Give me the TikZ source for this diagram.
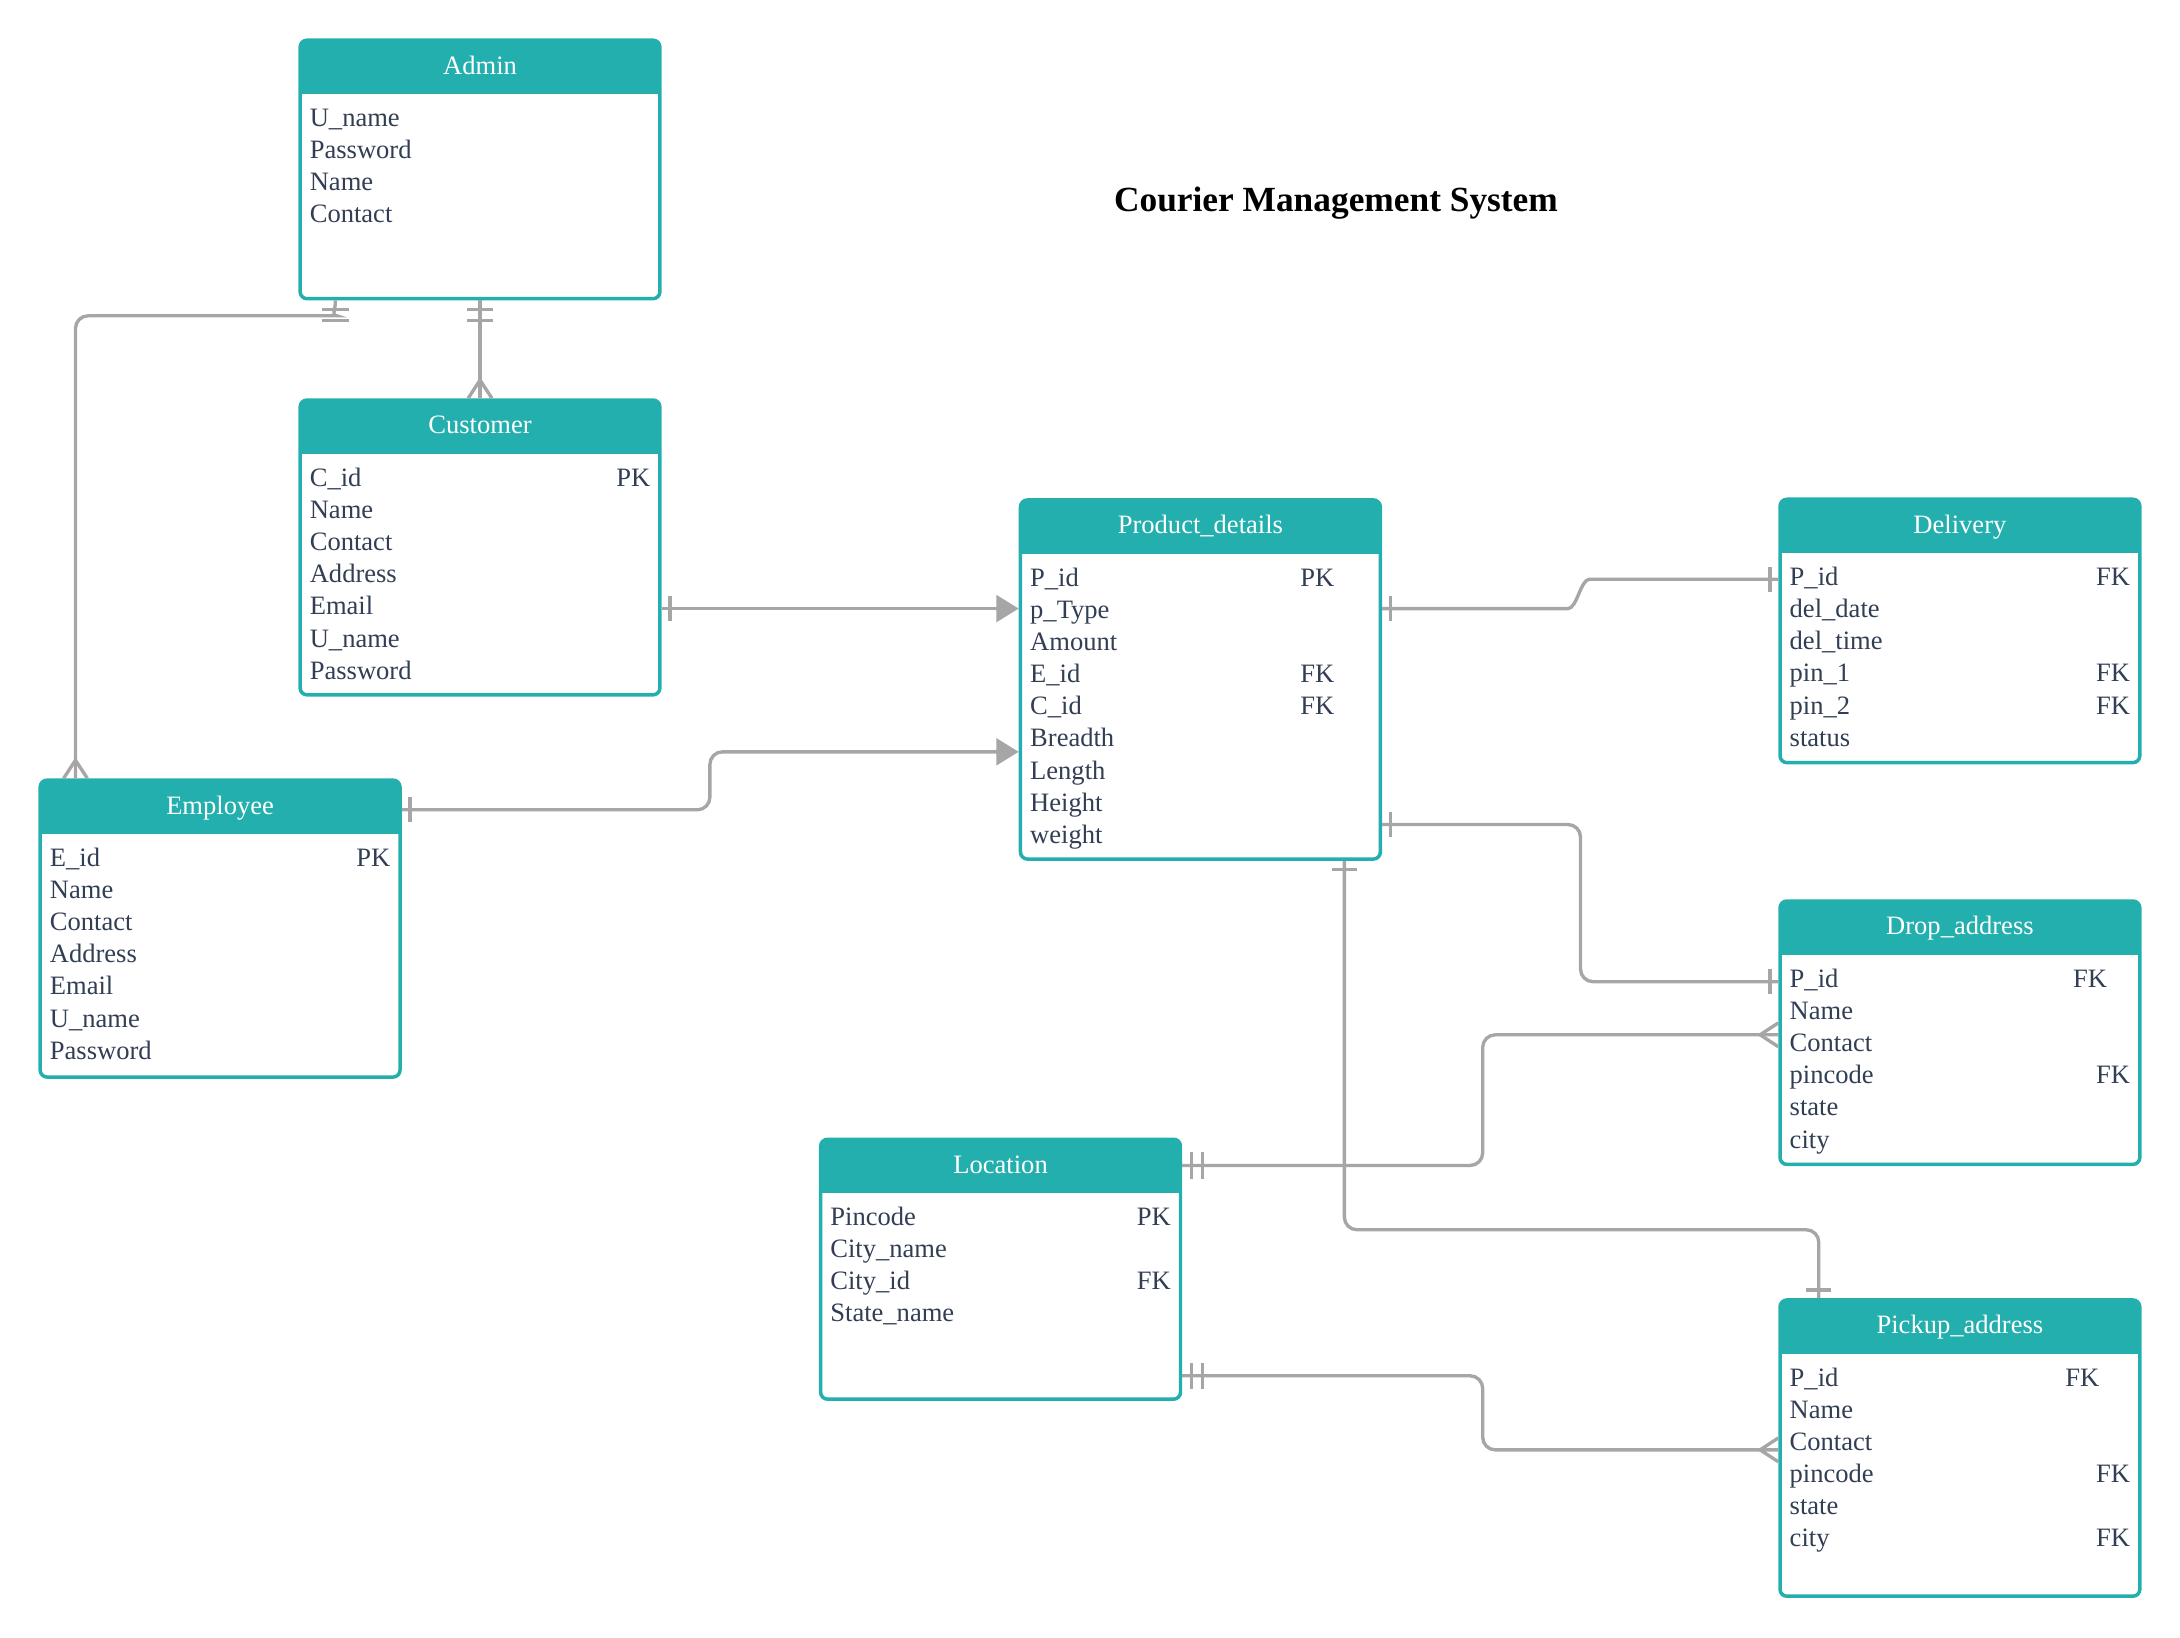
\documentclass[tikz,border=0pt]{standalone}
\usepackage{fontspec}
\setmainfont{Liberation Serif}
\usepackage{tikz}
\usetikzlibrary{arrows.meta,decorations.markings}

\definecolor{teal1}{RGB}{35,175,173}
\definecolor{lgray}{RGB}{166,166,166}
\definecolor{ink}{RGB}{50,62,84}

\tikzset{
  barline/.style={draw=lgray,line width=2.4pt,arrows=-},
  one start/.style={postaction={decorate,decoration={markings,
      mark=at position 6pt with {\draw[barline] (0pt,-9pt) -- (0pt,9pt);}}}},
  one end/.style={postaction={decorate,decoration={markings,
      mark=at position -6pt with {\draw[barline] (0pt,-9pt) -- (0pt,9pt);}}}},
  two start/.style={postaction={decorate,decoration={markings,
      mark=at position 6.5pt with {\draw[barline] (0pt,-9.5pt) -- (0pt,9.5pt);},
      mark=at position 14.5pt with {\draw[barline] (0pt,-9.5pt) -- (0pt,9.5pt);}}}},
  crow end/.style={postaction={decorate,decoration={markings,
      mark=at position 1 with {\draw[barline] (-13pt,0pt) -- (0pt,8.5pt) (-13pt,0pt) -- (0pt,-8.5pt);}}}}
}

\begin{document}
\begin{tikzpicture}[x=1pt,y=-1pt,
  box/.style={draw=teal1,fill=white,line width=2.5pt,rounded corners=5pt,anchor=north west,
    minimum width=257.5pt,inner sep=0pt,
    path picture={\fill[teal1,sharp corners] (path picture bounding box.north west) rectangle ([yshift=-38.5pt]path picture bounding box.north east);}},
  head/.style={anchor=base,text=white,font=\fontsize{19pt}{23pt}\selectfont},
  row/.style={anchor=base west,inner sep=0pt,text=ink,font=\fontsize{19pt}{23pt}\selectfont},
  key/.style={anchor=base east,inner sep=0pt,text=ink,font=\fontsize{19pt}{23pt}\selectfont},
  ttl/.style={anchor=base,font=\fontsize{25.3pt}{30pt}\selectfont\bfseries},
  conn/.style={draw=lgray,line width=2.4pt,rounded corners=9pt},
  tri/.style={-{Triangle[length=16pt,width=19pt]}}]
  \useasboundingbox (0,0) rectangle (1560,1171.5);

  \node[ttl] (ttl) at (956,151.5) {Courier Management System};

  % Admin
  \node[box,minimum height=185pt] (ad) at (213.5,27.5) {};
  \node[head] (ad-h) at ([yshift=-25.5pt]ad.north) {Admin};
  \foreach \attr [count=\i] in {U\_name,Password,Name,Contact}
    \node[row] (ad-\i) at ([xshift=8pt,yshift=-40pt-23pt*\i]ad.north west) {\attr};

  % Customer
  \node[box,minimum height=211pt] (cu) at (213.5,285) {};
  \node[head] (cu-h) at ([yshift=-25.5pt]cu.north) {Customer};
  \foreach \attr [count=\i] in {C\_id,Name,Contact,Address,Email,U\_name,Password}
    \node[row] (cu-\i) at ([xshift=8pt,yshift=-40pt-23pt*\i]cu.north west) {\attr};
  \node[key] (cu-k1) at ([xshift=-8pt,yshift=-63pt]cu.north east) {PK};

  % Employee
  \node[box,minimum height=212.5pt] (em) at (27.5,557) {};
  \node[head] (em-h) at ([yshift=-25.5pt]em.north) {Employee};
  \foreach \attr [count=\i] in {E\_id,Name,Contact,Address,Email,U\_name,Password}
    \node[row] (em-\i) at ([xshift=8pt,yshift=-40pt-23pt*\i]em.north west) {\attr};
  \node[key] (em-k1) at ([xshift=-8pt,yshift=-63pt]em.north east) {PK};

  % Product_details
  \node[box,minimum height=257pt] (pd) at (729,356.5) {};
  \node[head] (pd-h) at ([yshift=-25.5pt]pd.north) {Product\_details};
  \foreach \attr [count=\i] in {P\_id,p\_Type,Amount,E\_id,C\_id,Breadth,Length,Height,weight}
    \node[row] (pd-\i) at ([xshift=8pt,yshift=-40pt-23pt*\i]pd.north west) {\attr};
  \node[key] (pd-k1) at ([xshift=-34pt,yshift=-63pt]pd.north east) {PK};
  \node[key] (pd-k4) at ([xshift=-34pt,yshift=-132pt]pd.north east) {FK};
  \node[key] (pd-k5) at ([xshift=-34pt,yshift=-155pt]pd.north east) {FK};

  % Delivery
  \node[box,minimum height=188.5pt] (dl) at (1272.5,356) {};
  \node[head] (dl-h) at ([yshift=-25.5pt]dl.north) {Delivery};
  \foreach \attr [count=\i] in {P\_id,del\_date,del\_time,pin\_1,pin\_2,status}
    \node[row] (dl-\i) at ([xshift=8pt,yshift=-40pt-23pt*\i]dl.north west) {\attr};
  \node[key] (dl-k1) at ([xshift=-8pt,yshift=-63pt]dl.north east) {FK};
  \node[key] (dl-k4) at ([xshift=-8pt,yshift=-132pt]dl.north east) {FK};
  \node[key] (dl-k5) at ([xshift=-8pt,yshift=-155pt]dl.north east) {FK};

  % Drop_address
  \node[box,minimum height=188.5pt] (dr) at (1272.5,643.5) {};
  \node[head] (dr-h) at ([yshift=-25.5pt]dr.north) {Drop\_address};
  \foreach \attr [count=\i] in {P\_id,Name,Contact,pincode,state,city}
    \node[row] (dr-\i) at ([xshift=8pt,yshift=-40pt-23pt*\i]dr.north west) {\attr};
  \node[key] (dr-k1) at ([xshift=-24.5pt,yshift=-63pt]dr.north east) {FK};
  \node[key] (dr-k4) at ([xshift=-8pt,yshift=-132pt]dr.north east) {FK};

  % Location
  \node[box,minimum height=186pt] (lo) at (586,814) {};
  \node[head] (lo-h) at ([yshift=-25.5pt]lo.north) {Location};
  \foreach \attr [count=\i] in {Pincode,City\_name,City\_id,State\_name}
    \node[row] (lo-\i) at ([xshift=8pt,yshift=-40pt-23pt*\i]lo.north west) {\attr};
  \node[key] (lo-k1) at ([xshift=-8pt,yshift=-63pt]lo.north east) {PK};
  \node[key] (lo-k3) at ([xshift=-8pt,yshift=-109pt]lo.north east) {FK};

  % Pickup_address
  \node[box,minimum height=212pt] (pu) at (1272.5,929) {};
  \node[head] (pu-h) at ([yshift=-25.5pt]pu.north) {Pickup\_address};
  \foreach \attr [count=\i] in {P\_id,Name,Contact,pincode,state,city}
    \node[row] (pu-\i) at ([xshift=8pt,yshift=-40pt-23pt*\i]pu.north west) {\attr};
  \node[key] (pu-k1) at ([xshift=-30pt,yshift=-63pt]pu.north east) {FK};
  \node[key] (pu-k4) at ([xshift=-8pt,yshift=-132pt]pu.north east) {FK};
  \node[key] (pu-k6) at ([xshift=-8pt,yshift=-178pt]pu.north east) {FK};

  % relations
  \coordinate (ad-e) at ([xshift=-103.5pt]ad.south);
  \coordinate (em-n) at ([xshift=26.5pt]em.north west);
  \coordinate (pd-a) at ([yshift=-79pt]pd.north west);
  \coordinate (pd-b) at ([yshift=-181.5pt]pd.north west);
  \coordinate (dl-a) at ([yshift=-58.5pt]dl.north west);
  \coordinate (dr-a) at ([yshift=-59pt]dr.north west);
  \coordinate (dr-b) at ([yshift=-97pt]dr.north west);
  \coordinate (pu-a) at ([yshift=-108.5pt]pu.north west);

  \draw[conn,two start,crow end] (ad.south) -- (cu.north);
  \path[two start] (ad-e) -- ++(0,20);
  \draw[conn,crow end] (ad-e) .. controls +(0,8) and +(5,0) .. (232,226) -- (54,226) -- (em-n);
  \draw[conn,one start,tri] (cu.east |- pd-a) -- (pd-a);
  \draw[conn,one start,tri] ([yshift=-22.5pt]em.north east) -- ++(220.5,0) |- (pd-b);
  \draw[conn,one start,one end] ([yshift=-79pt]pd.north east) -- ++(124,0)
    to[out=0,in=180] ([xshift=-126pt]dl-a) -- (dl-a);
  \draw[conn,one start,one end] ([yshift=-233.5pt]pd.north east) -- ++(142,0) |- (dr-a);
  \draw[conn,two start,crow end] ([yshift=-20pt]lo.north east) -- ++(215,0) |- (dr-b);
  \draw[conn,two start,crow end] ([yshift=-170.5pt]lo.north east) -- ++(215,0) |- (pu-a);
  \draw[conn,one start,one end] ([xshift=-27pt]pd.south east) -- ++(0,264) -| ([xshift=29pt]pu.north west);
\end{tikzpicture}
\end{document}
